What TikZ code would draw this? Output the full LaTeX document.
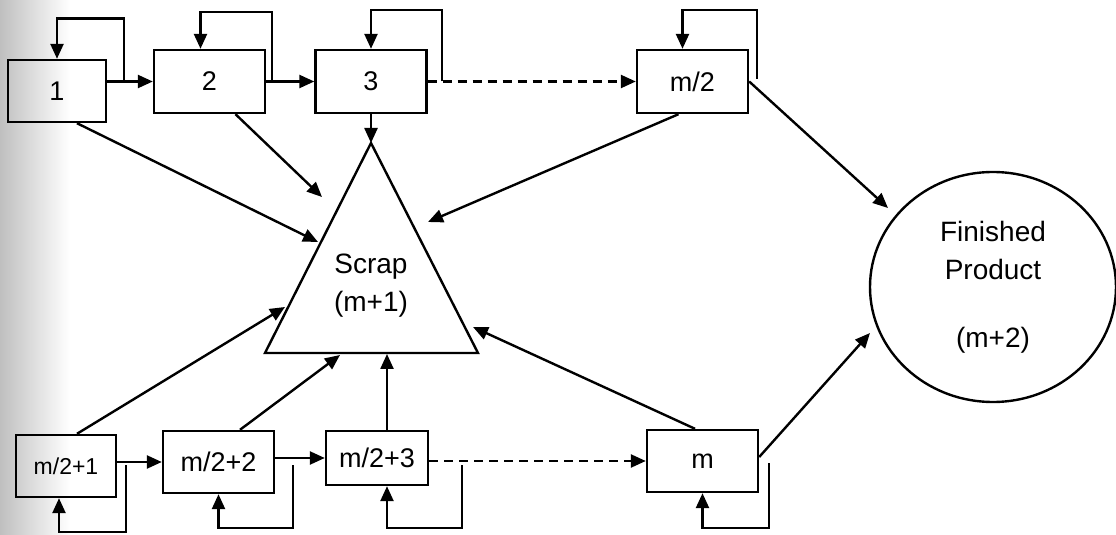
\documentclass[tikz,border=0pt]{standalone}
\usepackage{fontspec}
\setmainfont{Liberation Sans}
\usetikzlibrary{arrows.meta, shapes.geometric, calc}
\tikzset{
  % one pixel of the scan is half a point
  every picture/.append style = {line width=1.2pt, >={Triangle[length=7.5pt, width=6.5pt]}},
  stage/.style  = {draw, rectangle, inner sep=0pt, minimum width=55.5pt,
                   minimum height=31.5pt, font=\fontsize{13.5}{16}\selectfont},
  flow/.style   = {->},
  skip/.style   = {->, dash pattern=on 4.5pt off 3pt},
  lbl/.style    = {align=center, font=\fontsize{14}{19}\selectfont},
}

\begin{document}
\begin{tikzpicture}[x=0.5pt,y=-0.5pt]
  \useasboundingbox (0,0) rectangle (1116,535);
  \shade[left color=black!25, right color=white] (0,0) rectangle (70,535);
  % first half of the line
  \node[stage, minimum width=49pt, minimum height=31pt] (s1) at (57,91) {1};
  \node[stage] (s2) at (209.5,81.5) {2};
  \node[stage] (s3) at (371,81.5) {3};
  \node[stage] (sh) at (692.5,81.5) {m/2};
  % second half of the line
  \node[stage, minimum width=50pt, minimum height=31pt,
        font=\fontsize{11.5}{14}\selectfont] (t1) at (66,466) {m/2+1};
  \node[stage, minimum height=31pt] (t2) at (218.5,462) {m/2+2};
  \node[stage, minimum width=51pt, minimum height=27pt] (t3) at (377,458) {m/2+3};
  \node[stage, minimum height=31pt] (tm) at (702.5,461) {m};
  % scrap state
  \coordinate (apex) at (371,143);
  \coordinate (bl) at (265,353);
  \coordinate (br) at (478,353);
  \draw (apex) -- (bl) -- (br) -- cycle;
  \node[lbl] (scrap) at (371,286) {Scrap\\(m+1)};
  % finished product
  \node[draw, ellipse, minimum width=123pt, minimum height=115pt, lbl] (fin)
    at (993,287) {Finished\\Product\\[15pt](m+2)};
  % flow along each half
  \draw[flow] (s1.east |- s2.west) -- (s2.west);
  \draw[flow] (s2.east) -- (s3.west);
  \draw[skip] (s3.east) -- (sh.west);
  \draw[flow] (t1.east |- t2.west) -- (t2.west);
  \draw[flow] (t2.east |- t3.west) -- (t3.west);
  \draw[skip] (t3.east |- tm.west) -- (tm.west);
  % rework loops
  \coordinate (k1) at (124,81.5);
  \coordinate (k2) at (272,81.5);
  \coordinate (k3) at (442,81.5);
  \coordinate (kh) at (757,79);
  \draw[flow] (k1) -- ++(0,-63) -| (s1.north);
  \draw[flow] (k2) -- ++(0,-69.5) -| ([xshift=-4.5pt]s2.north);
  \draw[flow] (k3) -- ++(0,-71.5) -| (s3.north);
  \draw[flow] (kh) -- ++(0,-69) -| ([xshift=-5pt]sh.north);
  \coordinate (r1) at (126,465);
  \coordinate (r2) at (293,465);
  \coordinate (r3) at (462,465);
  \coordinate (r4) at (769,463);
  \draw[flow] (r1) -- ++(0,67) -| ([xshift=-3.5pt]t1.south);
  \draw[flow] (r2) -- ++(0,63) -| (t2.south);
  \draw[flow] (r3) -- ++(0,63) -| ([xshift=5pt]t3.south);
  \draw[flow] (r4) -- ++(0,65) -| (tm.south);
  % into scrap
  \coordinate (e1) at (318,242);
  \coordinate (e2) at (322,197);
  \coordinate (e4) at (428,222);
  \coordinate (e5) at (285,307);
  \coordinate (e6) at (340,355);
  \coordinate (e7) at (387,354);
  \coordinate (e8) at (473,327);
  \draw[flow] ([xshift=10pt]s1.south) -- (e1);
  \draw[flow] ([xshift=13pt]s2.south) -- (e2);
  \draw[flow] (s3.south) -- (apex);
  \draw[flow] ([xshift=-7pt]sh.south) -- (e4);
  \draw[flow] ([xshift=5.5pt]t1.north) -- (e5);
  \draw[flow] ([xshift=10.75pt]t2.north) -- (e6);
  \draw[flow] ([xshift=5pt]t3.north) -- (e7);
  \draw[flow] ([xshift=-3.75pt]tm.north) -- (e8);
  % into finished product
  \coordinate (f1) at (888,208);
  \coordinate (f2) at (870,333);
  \draw[flow] (sh.east) -- (f1);
  \draw[flow] ([yshift=2pt]tm.east) -- (f2);
\end{tikzpicture}
\end{document}
